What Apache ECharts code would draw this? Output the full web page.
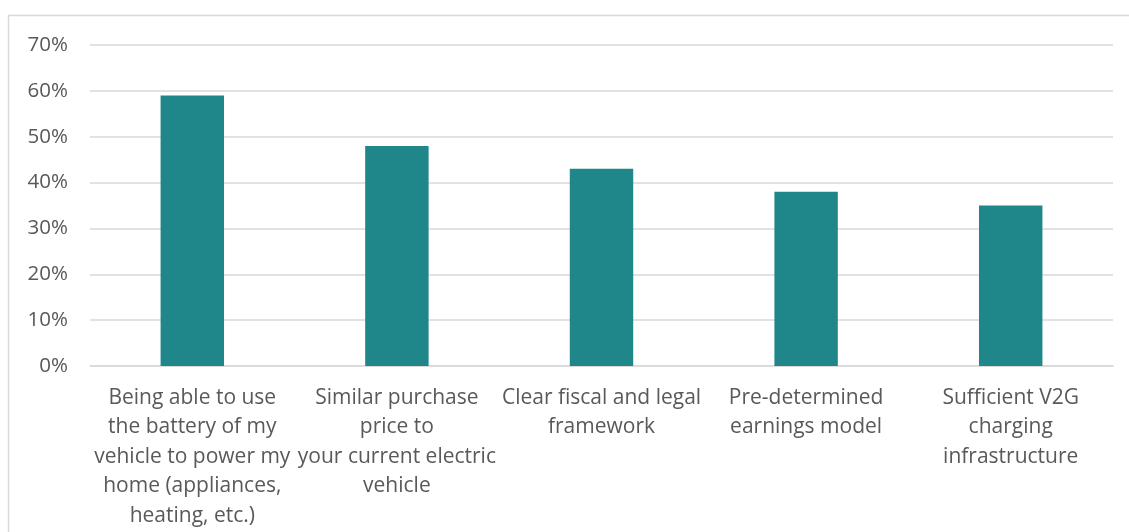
<!DOCTYPE html>
<html>
<head>
<meta charset="utf-8">
<script src="https://cdn.jsdelivr.net/npm/echarts@6/dist/echarts.min.js"></script>
<style>
  html, body { margin: 0; padding: 0; background: #fff; }
  #main { width: 1129px; height: 532px; }
</style>
</head>
<body>
<div id="main"></div>
<script>
// categories (line breaks as in the original chart)
let categories = [
  'Being able to use\nthe battery of my\nvehicle to power my\nhome (appliances,\nheating, etc.)',
  'Similar purchase\nprice to\nyour current electric\nvehicle',
  'Clear fiscal and legal\nframework',
  'Pre-determined\nearnings model',
  'Sufficient V2G\ncharging\ninfrastructure'
];
let values = [59, 48, 43, 38, 35];

let myChart = echarts.init(document.getElementById('main'));
let labelFont = "'Open Sans', sans-serif";
let option = {
  backgroundColor: '#fff',
  animation: false,
  graphic: [{
    type: 'rect',
    shape: { x: 8.5, y: 15.5, width: 1140, height: 540 },
    style: { fill: 'none', stroke: '#d9d9d9', lineWidth: 1.5 },
    silent: true
  }],
  grid: {
    left: 90,
    right: 16,
    top: 45,
    bottom: 166
  },
  xAxis: {
    type: 'category',
    data: categories,
    axisLine: { lineStyle: { color: '#d9d9d9', width: 1.5 } },
    axisTick: { show: false },
    axisLabel: {
      interval: 0,
      margin: 17,
      color: '#595959',
      fontSize: 21,
      lineHeight: 29.5,
      fontFamily: labelFont
    }
  },
  yAxis: {
    type: 'value',
    min: 0,
    max: 70,
    interval: 10,
    axisLine: { show: false },
    axisTick: { show: false },
    splitLine: { lineStyle: { color: '#d9d9d9', width: 1.5 } },
    axisLabel: {
      margin: 22,
      color: '#595959',
      fontSize: 20.5,
      fontFamily: labelFont,
      formatter: '{value}%'
    }
  },
  series: [{
    type: 'bar',
    data: values,
    barWidth: '31%',
    itemStyle: { color: '#1f868a' }
  }]
};
myChart.setOption(option);
</script>
</body>
</html>
